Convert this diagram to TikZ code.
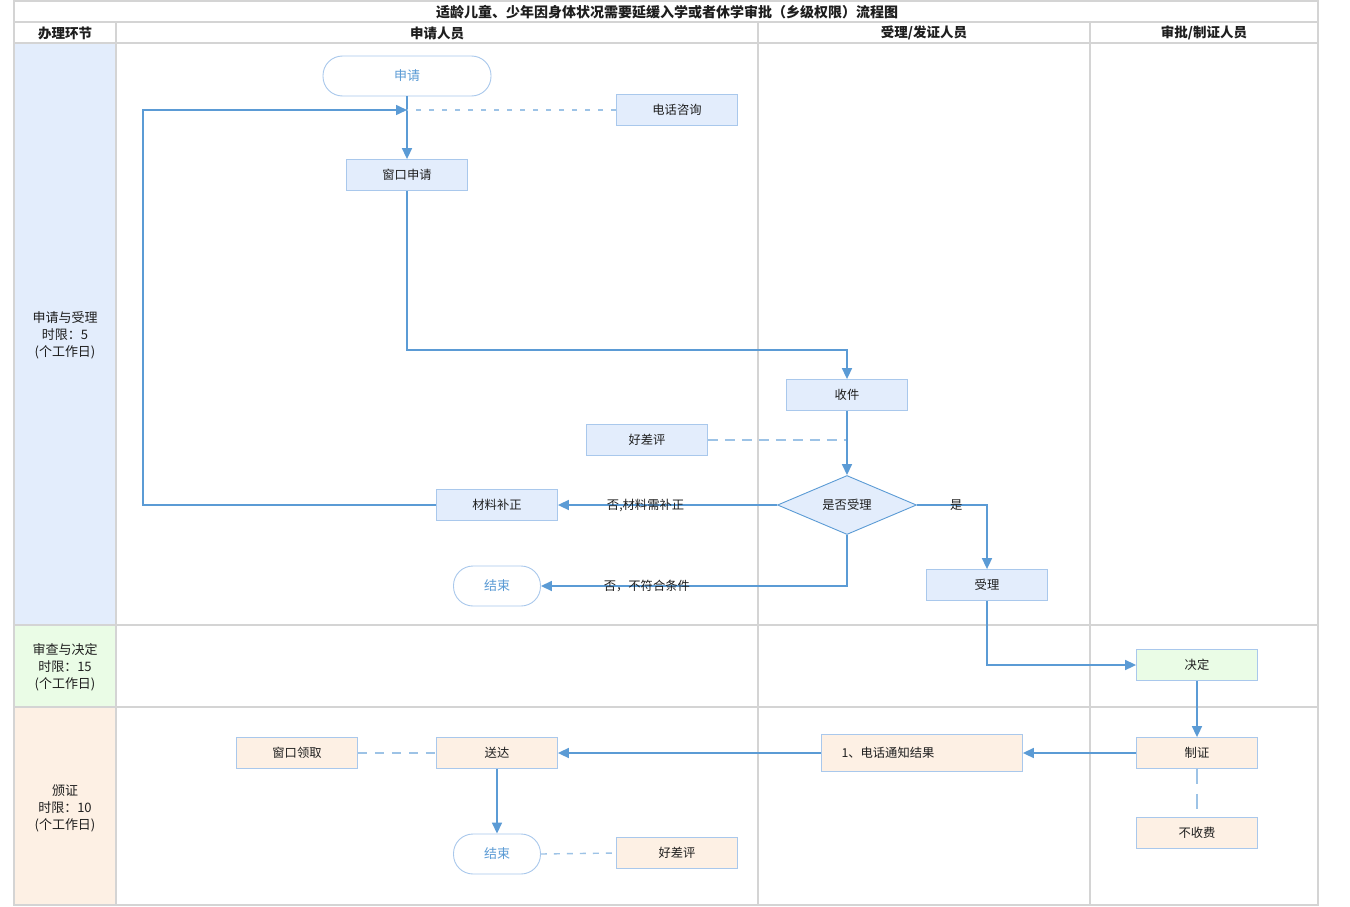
\documentclass[tikz,border=0pt]{standalone}
\usepackage{fontspec}
\setmainfont{Noto Sans CJK SC}
\usetikzlibrary{arrows.meta,shapes.geometric}
\definecolor{lineblue}{HTML}{5B9BD5}
\definecolor{dashblue}{HTML}{9DC3E6}
\definecolor{boxborder}{HTML}{A9C8EC}
\definecolor{bluefill}{HTML}{E3EDFC}
\definecolor{greenfill}{HTML}{EAFCE6}
\definecolor{peachfill}{HTML}{FDF0E4}
\definecolor{gridgray}{HTML}{D4D4D4}
\definecolor{termtext}{HTML}{5B9BD5}
\definecolor{txt}{HTML}{1E1E1E}
\begin{document}
\begin{tikzpicture}[x=1pt,y=-1pt,
  font=\fontsize{12.3}{14}\selectfont, text=txt,
  box/.style={draw=boxborder, fill=#1, minimum width=121pt, minimum height=31pt, inner sep=0pt, line width=0.8pt},
  box/.default=bluefill,
  term/.style={draw=boxborder, fill=white, rounded corners=19.5pt, minimum width=87pt, minimum height=40pt, inner sep=0pt, text=termtext, line width=0.9pt, font=\fontsize{13}{14}\selectfont},
  flow/.style={draw=lineblue, line width=1.6pt, -{Triangle[length=11pt,width=10pt]}},
  dashline/.style={draw=dashblue, line width=1.4pt, dash pattern=on 6pt off 7pt},
  grid/.style={draw=gridgray, line width=2pt},
  hdr/.style={font=\fontsize{13.5}{14}\selectfont\bfseries},
  lane/.style={align=center, font=\fontsize{13}{17}\selectfont},
  lbl/.style={inner sep=0pt, font=\fontsize{12.3}{14}\selectfont}
]
\useasboundingbox (0,0) rectangle (1350,907);
\fill[white] (0,0) rectangle (1350,907);
% lane fills
\fill[bluefill] (14,43) rectangle (116,625);
\fill[greenfill] (14,625) rectangle (116,707);
\fill[peachfill] (14,707) rectangle (116,905);
% grid
\draw[grid] (14,1) rectangle (1318,905);
\draw[grid] (14,22) -- (1318,22);
\draw[grid] (14,43) -- (1318,43);
\draw[grid] (14,625) -- (1318,625);
\draw[grid] (14,707) -- (1318,707);
\draw[grid] (116,22) -- (116,905);
\draw[grid] (758,22) -- (758,905);
\draw[grid] (1090,22) -- (1090,905);
% headings
\node[hdr, font=\fontsize{14}{15}\selectfont\bfseries] (title) at (667,12) {适龄儿童、少年因身体状况需要延缓入学或者休学审批（乡级权限）流程图};
\node[hdr] (h1) at (65,33) {办理环节};
\node[hdr] (h2) at (437,33) {申请人员};
\node[hdr] (h3) at (924,33) {受理/发证人员};
\node[hdr] (h4) at (1204,33) {审批/制证人员};
\node[lane] (l1) at (65,335) {申请与受理\\时限：5\\(个工作日)};
\node[lane] (l2) at (65,667) {审查与决定\\时限：15\\(个工作日)};
\node[lane] (l3) at (65,808) {颁证\\时限：10\\(个工作日)};
% nodes
\node[term, minimum width=168pt] (shenqing) at (407,76) {申请};
\node[box] (zixun) at (677,110) {电话咨询};
\node[box] (chuangkou) at (407,175) {窗口申请};
\node[box] (shoujian) at (847,395) {收件};
\node[box] (pingjia) at (647,440) {好差评};
\node[draw=lineblue, fill=bluefill, diamond, minimum width=139pt, minimum height=59pt, inner sep=0pt, shape aspect=2.36, line width=0.9pt] (dec) at (847,505) {是否受理};
\node[box] (buzheng) at (497,505) {材料补正};
\node[term] (jieshu1) at (497,586) {结束};
\node[box] (shouli) at (987,585) {受理};
\node[box=greenfill] (jueding) at (1197,665) {决定};
\node[box=peachfill] (zhizheng) at (1197,753) {制证};
\node[box=peachfill] (bushoufei) at (1197,833) {不收费};
\node[box=peachfill, minimum width=201pt, minimum height=37pt, text width=161pt, inner xsep=20pt, align=left] (tongzhi) at (922,753) {1、电话通知结果};
\node[box=peachfill] (songda) at (497,753) {送达};
\node[box=peachfill] (lingqu) at (297,753) {窗口领取};
\node[term] (jieshu2) at (497,854) {结束};
\node[box=peachfill] (pingjia2) at (677,853) {好差评};
% helper coordinates
\coordinate (loopend) at (407,110);
\coordinate (loopcorner) at (143,505);
% connectors
\draw[flow] (shenqing.south) -- (chuangkou.north);
\draw[dashline, dash pattern=on 5pt off 8pt] (zixun.west) -- (loopend);
\draw[flow] (buzheng.west) -- (loopcorner) |- (loopend);
\draw[flow] (chuangkou.south) -- ++(0,159) -| (shoujian.north);
\draw[dashline, dash pattern=on 10pt off 7pt] (pingjia.east) -- (shoujian.south |- pingjia.east);
\draw[flow] (shoujian.south) -- (dec.north);
\draw[flow] (dec.west) -- node[lbl, pos=0.6] {否,材料需补正} (buzheng.east);
\draw[flow] (dec.south) |- node[lbl, pos=0.827] {否，不符合条件} (jieshu1.east);
\draw[flow] (dec.east) -| node[lbl, pos=0.28] {是} (shouli.north);
\draw[flow] (shouli.south) |- (jueding.west);
\draw[flow] (jueding.south) -- (zhizheng.north);
\draw[dashline, dash pattern=on 15pt off 10pt] (zhizheng.south) -- (bushoufei.north);
\draw[flow] (zhizheng.west) -- (tongzhi.east);
\draw[flow] (tongzhi.west) -- (songda.east);
\draw[dashline, dash pattern=on 9pt off 8pt] (lingqu.east) -- (songda.west);
\draw[flow] (songda.south) -- (jieshu2.north);
\draw[dashline, dash pattern=on 6pt off 7pt] (jieshu2.east) -- (pingjia2.west);
\end{tikzpicture}
\end{document}
